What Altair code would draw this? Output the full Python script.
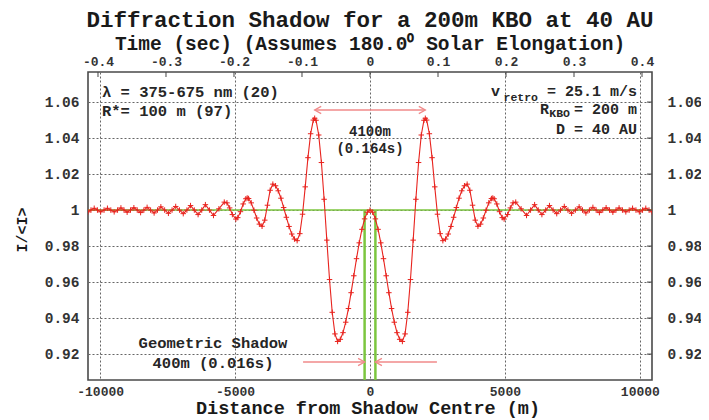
import altair as alt
import pandas as pd

FONT = "Liberation Mono"
RED = "#e8231e"
GREEN = "#7cc63f"
ARROW = "#f08a8a"
TXT = "#262626"

# ---------------- data ----------------
# distance from shadow centre (m), left half
L_D = [-10450, -10340, -10220, -10100, -9980, -9855, -9730, -9605, -9480, -9355,
       -9230, -9115, -9000, -8875, -8750, -8625, -8500, -8380, -8260, -8130,
       -8000, -7875, -7750, -7610, -7470, -7335, -7200, -7060, -6920, -6785,
       -6650, -6510, -6370, -6235, -6100, -5950, -5800, -5600,
       -5400, -5300, -5200, -5100,
       -4970, -4900, -4800, -4700, -4600,
       -4550, -4500, -4400, -4300, -4200, -4100,
       -4000, -3900, -3800, -3700,
       -3600, -3500, -3400, -3300, -3200, -3100, -3000, -2900, -2800,
       -2700, -2600, -2500, -2400, -2300, -2200, -2100,
       -2050, -2000, -1900, -1800, -1700, -1600, -1500, -1400, -1300,
       -1200, -1100, -1000, -900, -800, -700, -600, -500, -400, -300, -200, -100]
# normalised intensity I/<I>, left half
L_I = [0.9990, 1.0000, 1.0010, 1.0000, 0.9990, 1.0000, 1.0010, 1.0000, 0.9990, 1.0000,
       1.0012, 1.0000, 0.9988, 1.0000, 1.0013, 1.0000, 0.9986, 1.0000, 1.0015, 1.0000,
       0.9984, 1.0000, 1.0018, 1.0000, 0.9982, 1.0000, 1.0020, 1.0000, 0.9980, 1.0000,
       1.0025, 1.0000, 0.9975, 1.0000, 1.0030, 1.0000, 0.9970, 1.0007,
       1.0044, 1.0040, 1.0012, 0.9975,
       0.9950, 0.9958, 0.9991, 1.0034, 1.0063,
       1.0067, 1.0064, 1.0040, 0.9999, 0.9956, 0.9922,
       0.9910, 0.9944, 1.0027, 1.0110,
       1.0144, 1.0135, 1.0107, 1.0066, 1.0014, 0.9960, 0.9909, 0.9867, 0.9839,
       0.9830, 0.9869, 0.9977, 1.0129, 1.0291, 1.0424, 1.0500,
       1.0510, 1.0499, 1.0417, 1.0264, 1.0060, 0.9833, 0.9614, 0.9432, 0.9312,
       0.9270, 0.9282, 0.9319, 0.9377, 0.9453, 0.9541, 0.9635, 0.9730, 0.9818, 0.9893, 0.9951, 0.9988]
# right half
R_D = [0, 100, 200, 300, 400, 500, 600, 700, 800, 900, 1000, 1100, 1200,
       1300, 1400, 1500, 1600, 1700, 1800, 1900, 2000, 2050,
       2100, 2200, 2300, 2400, 2500, 2600, 2700,
       2800, 2900, 3000, 3100, 3200, 3300, 3400, 3500, 3600,
       3700, 3800, 3900, 4000,
       4100, 4200, 4300, 4400, 4500, 4550,
       4600, 4700, 4800, 4900, 4970,
       5100, 5200, 5300, 5400,
       5600, 5800, 5950, 6100, 6235, 6370, 6510, 6650, 6785, 6920,
       7060, 7200, 7335, 7470, 7610, 7750, 7875, 8000, 8130, 8260,
       8380, 8500, 8625, 8750, 8875, 9000, 9115, 9230, 9355, 9480,
       9605, 9730, 9855, 9980, 10100, 10220, 10340, 10450]
R_I = [1.0000, 0.9988, 0.9951, 0.9893, 0.9818, 0.9730, 0.9635, 0.9541, 0.9453, 0.9377, 0.9319, 0.9282, 0.9270,
       0.9312, 0.9432, 0.9614, 0.9833, 1.0060, 1.0264, 1.0417, 1.0499, 1.0510,
       1.0500, 1.0424, 1.0291, 1.0129, 0.9977, 0.9869, 0.9830,
       0.9839, 0.9867, 0.9909, 0.9960, 1.0014, 1.0066, 1.0107, 1.0135, 1.0144,
       1.0110, 1.0027, 0.9944, 0.9910,
       0.9922, 0.9956, 0.9999, 1.0040, 1.0064, 1.0067,
       1.0063, 1.0034, 0.9991, 0.9958, 0.9950,
       0.9975, 1.0012, 1.0040, 1.0044,
       1.0007, 0.9970, 1.0000, 1.0030, 1.0000, 0.9975, 1.0000, 1.0025, 1.0000, 0.9980,
       1.0000, 1.0020, 1.0000, 0.9982, 1.0000, 1.0018, 1.0000, 0.9984, 1.0000, 1.0015,
       1.0000, 0.9986, 1.0000, 1.0013, 1.0000, 0.9988, 1.0000, 1.0012, 1.0000, 0.9990,
       1.0000, 1.0010, 1.0000, 0.9990, 1.0000, 1.0010, 1.0000, 0.9990]

X_TICKS = [-10000, -5000, 0, 5000, 10000]
Y_TICKS = [0.92, 0.94, 0.96, 0.98, 1.0, 1.02, 1.04, 1.06]
T_TICKS = [-0.4, -0.3, -0.2, -0.1, 0.0, 0.1, 0.2, 0.3, 0.4]

GEOM_X = [-200, 200]          # geometric shadow edges (400 m)
REF_LEVEL = [1.0]

ARROW_X1 = [-2050, -2480, 2480]
ARROW_X2 = [2050, -200, 200]
ARROW_Y = [1.0556, 0.9156, 0.9156]
HEAD_X = [-2050, 2050, -200, 200]
HEAD_Y = [1.0556, 1.0556, 0.9156, 0.9156]
HEAD_DIR = ["left", "right", "right", "left"]

TITLE = "Diffraction Shadow for a 200m KBO at 40 AU"
TOP_TITLE = "Time (sec) (Assumes 180.0\u2070 Solar Elongation)"
X_TITLE = "Distance from Shadow Centre (m)"
Y_TITLE = "I/<I>"
LAMBDA_TXT = "\u03bb = 375-675 nm (20)"
RSTAR_TXT = "R*= 100 m (97)"
VRET_TXT = ["v", "retro", "= 25.1 m/s"]
RKBO_TXT = ["R", "KBO", "= 200 m"]
D_TXT = "D = 40 AU"
SPAN_TXT = ["4100m", "(0.164s)"]
GEOM_TXT = ["Geometric Shadow", "400m (0.016s)"]

# ---------------- layout ----------------
W, H = 564, 308
X_DOMAIN = [-10450, 10450]
Y_DOMAIN = [0.9056, 1.0767]
T_DOMAIN = [-0.4147, 0.4147]

xs = alt.Scale(domain=X_DOMAIN, nice=False, zero=False)
ys = alt.Scale(domain=Y_DOMAIN, nice=False, zero=False)
ts = alt.Scale(domain=T_DOMAIN, nice=False, zero=False)

MINUS = "replace(datum.label, '\u2212', '-')"
LABEL_STYLE = dict(labelFont=FONT, labelFontWeight="bold", labelColor="#333",
                   ticks=False, domain=False, title=None, labelFlush=False)
GRID = dict(grid=True, gridColor="#666", gridDash=[2, 2], gridWidth=1)

X_AXIS = alt.Axis(orient="bottom", values=X_TICKS, format="d", labelExpr=MINUS,
                  labelFontSize=13, labelPadding=5, **GRID, **LABEL_STYLE)
Y_AXIS = alt.Axis(orient="left", values=Y_TICKS, format=".2~f",
                  labelFontSize=14.5, labelPadding=9, **GRID, **LABEL_STYLE)
T_AXIS = alt.Axis(orient="top", values=T_TICKS, format=".1~f", labelExpr=MINUS,
                  labelFontSize=13, labelPadding=4, grid=False, **LABEL_STYLE)
R_AXIS = alt.Axis(orient="right", values=Y_TICKS, format=".2~f",
                  labelFontSize=14.5, labelPadding=15, grid=False, **LABEL_STYLE)

X = lambda f: alt.X(f, scale=xs, axis=X_AXIS)
Y = lambda f: alt.Y(f, scale=ys, axis=Y_AXIS)

curve_df = pd.DataFrame({"d": L_D + R_D, "I": L_I + R_I})

green_h = alt.Chart(pd.DataFrame({"I": REF_LEVEL})).mark_rule(
    color=GREEN, strokeWidth=1.6).encode(y=Y("I:Q"))
green_v = alt.Chart(pd.DataFrame({"d": GEOM_X, "I": [1.0, 1.0]})).mark_rule(
    color=GREEN, strokeWidth=2.5).encode(x=X("d:Q"), y=Y("I:Q"), y2=alt.value(H))

shafts = alt.Chart(pd.DataFrame({"d": ARROW_X1, "d2": ARROW_X2, "I": ARROW_Y})).mark_rule(
    color=ARROW, strokeWidth=1.3).encode(x=X("d:Q"), x2="d2:Q", y=Y("I:Q"))
HEAD_PATH = {"right": "M-1,-0.55L0,0L-1,0.55", "left": "M1,-0.55L0,0L1,0.55"}
heads = alt.Chart(pd.DataFrame({"d": HEAD_X, "I": HEAD_Y,
                                "s": [HEAD_PATH[h] for h in HEAD_DIR]})).mark_point(
    filled=False, color=ARROW, strokeWidth=1.3, size=170, opacity=1).encode(
    x=X("d:Q"), y=Y("I:Q"), shape=alt.Shape("s:N", scale=None))

line = alt.Chart(curve_df).mark_line(color=RED, strokeWidth=1.1, clip=True).encode(
    x=X("d:Q"), y=Y("I:Q"))
pts = alt.Chart(curve_df).mark_point(
    shape="M-1,0L1,0M0,-1L0,1", filled=False, color=RED, strokeWidth=1,
    size=30, opacity=1, clip=True).encode(x=X("d:Q"), y=Y("I:Q"))


def label(txt, x, y, size=15, align="left", angle=0, color=TXT, baseline="middle"):
    return alt.Chart(pd.DataFrame({"t": [txt]})).mark_text(
        align=align, baseline=baseline, font=FONT, fontSize=size,
        fontWeight="bold", color=color, angle=angle).encode(
        text="t:N", x=alt.value(x), y=alt.value(y))


texts = [
    label(TITLE, 282, -52, size=22.5, align="center", color="#1a1a1a"),
    label(TOP_TITLE, 282, -28, size=19.5, align="center", color="#1a1a1a"),
    label(X_TITLE, 280, 342, size=18.5, align="center", color="#1a1a1a",
          baseline="alphabetic"),
    label(Y_TITLE, -66, 158, size=15, align="center", angle=270, color="#1a1a1a"),
    label(LAMBDA_TXT, 14, 20, size=15.5),
    label(RSTAR_TXT, 14, 39, size=15.5),
    label(VRET_TXT[0], 412, 19, align="right"),
    label(VRET_TXT[1], 450, 26, size=11.5, align="right"),
    label(VRET_TXT[2], 549, 19, align="right"),
    label(RKBO_TXT[0], 461, 37, align="right"),
    label(RKBO_TXT[1], 482, 42, size=11.5, align="right"),
    label(RKBO_TXT[2], 549, 37, align="right"),
    label(D_TXT, 549, 57, align="right"),
    label(SPAN_TXT[0], 282, 60, size=14, align="center"),
    label(SPAN_TXT[1], 282, 77, size=14, align="center"),
    label(GEOM_TXT[0], 125, 271, size=15.5, align="center"),
    label(GEOM_TXT[1], 125, 291, size=15.5, align="center"),
]

main = alt.layer(green_h, green_v, shafts, heads, line, pts, *texts)

top = alt.Chart(pd.DataFrame({"t": T_TICKS})).mark_rule(color="#444", strokeWidth=1).encode(
    x=alt.X("t:Q", scale=ts, axis=T_AXIS), y=alt.value(0), y2=alt.value(5))
right = alt.Chart(pd.DataFrame({"v": Y_TICKS})).mark_rule(color="#444", strokeWidth=1).encode(
    y=alt.Y("v:Q", scale=alt.Scale(domain=Y_DOMAIN, nice=False, zero=False), axis=R_AXIS),
    x=alt.value(W - 5), x2=alt.value(W))

chart = alt.layer(main, top, right).resolve_scale(
    x="independent", y="independent").properties(
    width=W, height=H,
    autosize=alt.AutoSizeParams(type="none"),
    padding={"left": 80, "top": 64, "right": 49, "bottom": 40},
    background="white",
).configure_view(stroke="#4a4a4a", strokeWidth=1.6)

chart.save("out.html", embed_options={"renderer": "svg", "actions": False})
